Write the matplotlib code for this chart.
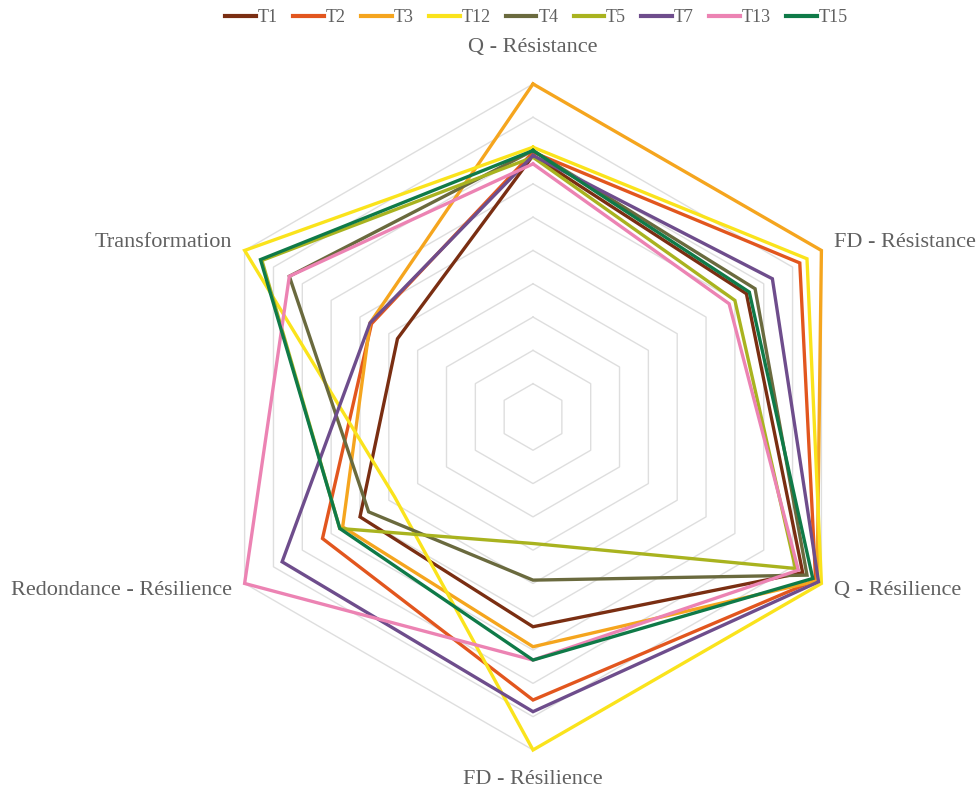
import numpy as np
import matplotlib
matplotlib.use("Agg")
import matplotlib.pyplot as plt
from matplotlib.lines import Line2D

plt.rcParams['font.family'] = ['Liberation Serif', 'DejaVu Serif']

# axes, clockwise from the top
axes_labels = ["Q - Résistance", "FD - Résistance", "Q - Résilience",
               "FD - Résilience", "Redondance - Résilience", "Transformation"]

series_names = ["T1", "T2", "T3", "T12", "T4", "T5", "T7", "T13", "T15"]

T1 = [7.85, 7.4, 9.35, 6.3, 6.0, 4.7]
T2 = [7.95, 9.25, 9.8, 8.5, 7.3, 5.6]
T3 = [10.0, 10.0, 9.85, 6.9, 6.6, 5.65]
T12 = [8.1, 9.5, 10.0, 10.0, 4.8, 10.0]
T4 = [8.0, 7.7, 9.5, 4.9, 5.7, 8.45]
T5 = [7.8, 7.0, 9.1, 3.8, 6.7, 9.4]
T7 = [7.85, 8.3, 9.9, 8.85, 8.7, 5.65]
T13 = [7.6, 6.8, 9.2, 7.3, 10.0, 8.45]
T15 = [8.0, 7.5, 9.7, 7.3, 6.7, 9.45]

colors = ["#7A2E12", "#E2561E", "#F5A51E", "#FAE31C", "#6A6A3E",
          "#A9B31F", "#6E4D8C", "#EC83B3", "#0F7A48"]

data = [T1, T2, T3, T12, T4, T5, T7, T13, T15]
grid_levels = list(range(1, 11))

n = len(axes_labels)
angles = np.linspace(0, 2 * np.pi, n, endpoint=False)
closed = np.append(angles, angles[0])

fig = plt.figure(figsize=(9.79, 7.98), dpi=100)
ax = fig.add_axes([0.2043, 0.0602, 0.6803, 0.8346], projection='polar')
ax.set_theta_offset(np.pi / 2)
ax.set_theta_direction(-1)
ax.set_ylim(0, 10)
ax.grid(False)
ax.spines['polar'].set_visible(False)
ax.set_xticks([])
ax.set_yticks([])

# hexagon gridlines
for lv in grid_levels:
    ax.plot(closed, [lv] * (n + 1), color="#DEDEDE", lw=1.0, zorder=1)

for name, vals, c in zip(series_names, data, colors):
    ax.plot(closed, vals + vals[:1], color=c, lw=2.4, zorder=3,
            solid_joinstyle='miter', clip_on=False, label=name)

# category labels
lab_color = "#606060"
fs = 16
ax.text(angles[0], 11.1, axes_labels[0], ha='center', va='center', color=lab_color, fontsize=fs)
ax.text(angles[1], 10.45, axes_labels[1], ha='left', va='center', color=lab_color, fontsize=fs)
ax.text(angles[2], 10.45, axes_labels[2], ha='left', va='center', color=lab_color, fontsize=fs)
ax.text(angles[3], 10.9, axes_labels[3], ha='center', va='center', color=lab_color, fontsize=fs)
ax.text(angles[4], 10.45, axes_labels[4], ha='right', va='center', color=lab_color, fontsize=fs)
ax.text(angles[5], 10.45, axes_labels[5], ha='right', va='center', color=lab_color, fontsize=fs)

handles = [Line2D([0], [0], color=c, lw=3) for c in colors]
leg = fig.legend(handles, series_names, loc='center', bbox_to_anchor=(0.548, 0.978),
                 ncol=9, frameon=False, fontsize=13, handlelength=1.7,
                 handletextpad=0.1, columnspacing=0.85)
for t in leg.get_texts():
    t.set_color(lab_color)

fig.savefig("out.png", dpi=100)
